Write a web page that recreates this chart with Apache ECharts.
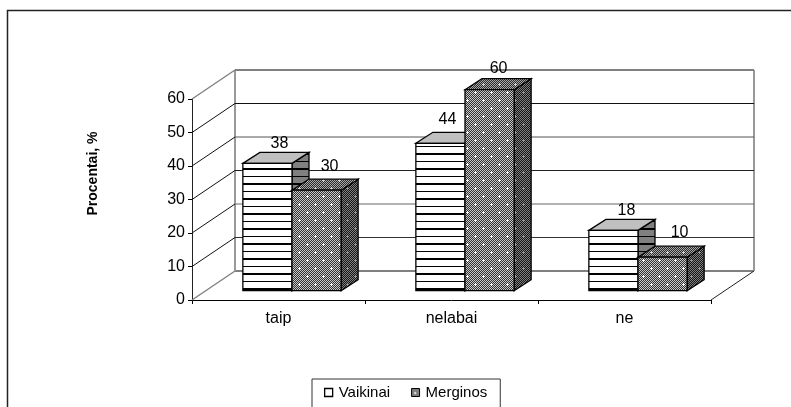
<!DOCTYPE html>
<html><head><meta charset="utf-8">
<style>html,body{margin:0;padding:0;background:#fff}#c{width:791px;height:407px}</style>
<script src="https://cdn.jsdelivr.net/npm/echarts@6/dist/echarts.min.js"></script>
</head><body><div id="c"></div>
<script>
const categories = ['taip', 'nelabai', 'ne'];
const vaikinai = [38, 44, 18];
const merginos = [30, 60, 10];
const gridValues = [0, 10, 20, 30, 40, 50, 60];
const wallColors = ['#808080', '#333333', '#666666', '#222222', '#555555', '#111111', '#808080'];

const FONT = '"Liberation Sans", Arial, sans-serif';
const DEPTH_X = 43, DEPTH_Y = -29;        // whole floor depth in pixels
const BAR_X = 13.5, BAR_Y = -9.3;         // where the bars stand on the floor
const BAR_DX = 17, BAR_DY = -11;          // depth of each bar
const BAR_FRACTION = 0.284;               // bar width / category band
const LABEL_SHIFT = [                     // label offset from the top of each bar's front face
  [[12, -20], [7, -23.5], [13, -20]],
  [[13, -23.5], [9, -21], [17, -24.5]]
];

function tile(w, h, draw) {
  const c = document.createElement('canvas');
  c.width = w; c.height = h;
  draw(c.getContext('2d'));
  return { image: c, repeat: 'repeat' };
}
function stripes(bg) {
  return tile(4, 15, g => {
    g.fillStyle = bg; g.fillRect(0, 0, 4, 15);
    g.fillStyle = '#000'; g.fillRect(0, 3, 4, 2); g.fillRect(0, 11, 4, 1);
  });
}
function dots(dark, light, spot) {
  return tile(16, 16, g => {
    for (let y = 0; y < 16; y++) for (let x = 0; x < 16; x++) {
      g.fillStyle = (x + y) % 2 ? dark : light; g.fillRect(x, y, 1, 1);
    }
    g.fillStyle = spot;
    [[3, 4], [11, 12]].forEach(([x, y]) => {
      g.fillRect(x - 1, y, 3, 1); g.fillRect(x, y - 1, 1, 3);
    });
  });
}
const looks = [
  { front: stripes('#ffffff'), top: '#c0c0c0', side: stripes('#808080') },
  { front: dots('#333333', '#c8c8c8', '#ffffff'),
    top: dots('#2c2c2c', '#a8a8a8', '#d8d8d8'),
    side: dots('#151515', '#808080', '#999999') }
];

function barItem(seriesIndex, values) {
  return {
    type: 'custom', name: seriesIndex ? 'Merginos' : 'Vaikinai',
    coordinateSystem: 'cartesian2d', z: 3 + seriesIndex, clip: false, silent: true,
    data: values.map((v, i) => [i, v]),
    encode: { x: 0, y: 1 },
    renderItem(params, api) {
      const cat = api.value(0), val = api.value(1);
      const base = api.coord([cat, 0]), tip = api.coord([cat, val]);
      const w = api.size([1, 0])[0] * BAR_FRACTION;
      const x0 = base[0] + BAR_X + (seriesIndex - 1) * w, x1 = x0 + w;
      const yb = base[1] + BAR_Y, yt = tip[1] + BAR_Y;
      const look = looks[seriesIndex];
      const shift = LABEL_SHIFT[seriesIndex][params.dataIndex];
      const stroke = { stroke: '#000', lineWidth: 1.3 };
      const poly = (points, fill) => ({ type: 'polygon', shape: { points },
        style: Object.assign({ fill }, stroke) });
      return { type: 'group', children: [
        poly([[x1, yb], [x1 + BAR_DX, yb + BAR_DY], [x1 + BAR_DX, yt + BAR_DY], [x1, yt]], look.side),
        poly([[x0, yt], [x0 + BAR_DX, yt + BAR_DY], [x1 + BAR_DX, yt + BAR_DY], [x1, yt]], look.top),
        { type: 'rect', shape: { x: x0, y: yt, width: w, height: yb - yt },
          style: Object.assign({ fill: look.front }, stroke) },
        { type: 'text', z2: 50, style: { text: String(val), x: x0 + w / 2 + shift[0], y: yt + shift[1],
          align: 'center', verticalAlign: 'middle', font: '16px ' + FONT, fill: '#000' } }
      ] };
    }
  };
}

const wallSeries = {
  type: 'custom', coordinateSystem: 'cartesian2d', z: 1, clip: false, silent: true,
  data: gridValues.map(v => [0, v]),
  encode: { x: 0, y: 1 },
  renderItem(params, api) {
    const cs = params.coordSys;
    const i = params.dataIndex;
    const y = api.coord([0, api.value(1)])[1];
    const L = cs.x, R = cs.x + cs.width;
    const edge = i === 0 || i === gridValues.length - 1;
    const line = (x1, y1, x2, y2, stroke, lineWidth) =>
      ({ type: 'line', shape: { x1, y1, x2, y2 }, style: { stroke, lineWidth } });
    const kids = [
      line(L, y, L + DEPTH_X, y + DEPTH_Y, edge ? '#808080' : '#111', edge ? 1.4 : 1),
      line(L + DEPTH_X, y + DEPTH_Y, R + DEPTH_X, y + DEPTH_Y, wallColors[i], edge ? 2 : 1)
    ];
    if (i === 0) {
      const top = api.coord([0, gridValues[gridValues.length - 1]])[1];
      kids.push(line(L + DEPTH_X, y + DEPTH_Y, L + DEPTH_X, top + DEPTH_Y, '#999', 2));
      kids.push(line(R + DEPTH_X, y + DEPTH_Y, R + DEPTH_X, top + DEPTH_Y, '#999', 2));
      kids.push(line(R, y, R + DEPTH_X, y + DEPTH_Y, '#222', 1));
    }
    return { type: 'group', children: kids };
  }
};

const chart = echarts.init(document.getElementById('c'), null, { renderer: 'canvas' });
chart.setOption({
  animation: false,
  backgroundColor: '#fff',
  grid: { left: 192, right: 80, top: 99, bottom: 107, containLabel: false },
  xAxis: {
    type: 'category', data: categories, boundaryGap: true,
    axisLine: { lineStyle: { color: '#000', width: 1 } },
    axisTick: { show: true, length: 4, inside: false, alignWithLabel: false, lineStyle: { color: '#000' } },
    axisLabel: { fontFamily: FONT, fontSize: 16, color: '#000', margin: 11 }
  },
  yAxis: {
    type: 'value', min: 0, max: 60, interval: 10,
    name: 'Procentai, %', nameLocation: 'middle', nameGap: 92, nameRotate: 90,
    nameTextStyle: { fontFamily: FONT, fontSize: 14, fontWeight: 'bold', color: '#000', padding: [0, 0, 0, 52] },
    axisLine: { show: true, lineStyle: { color: '#222', width: 1 } },
    axisTick: { show: true, length: 4, lineStyle: { color: '#000' } },
    axisLabel: { fontFamily: FONT, fontSize: 16, color: '#000', margin: 7 },
    splitLine: { show: false }
  },
  legend: {
    left: 312, top: 379, orient: 'horizontal', itemWidth: 8, itemHeight: 8, itemGap: 21,
    padding: [6, 13, 40, 12], borderColor: '#333', borderWidth: 1, backgroundColor: '#fff',
    textStyle: { fontFamily: FONT, fontSize: 15, color: '#000', padding: [0, 0, 0, 1] },
    data: [
      { name: 'Vaikinai', icon: 'rect', itemStyle: { color: '#fff', borderColor: '#000', borderWidth: 1.3 } },
      { name: 'Merginos', icon: 'rect', itemStyle: { color: looks[1].front, borderColor: '#000', borderWidth: 1 } }
    ]
  },
  graphic: [
    { type: 'polyline', silent: true, z: 0,
      shape: { points: [[7.5, 407], [7.5, 10.5], [791, 10.5]] },
      style: { fill: 'none', stroke: '#222', lineWidth: 1.5 } }
  ],
  series: [wallSeries, barItem(0, vaikinai), barItem(1, merginos)]
});
</script></body></html>
